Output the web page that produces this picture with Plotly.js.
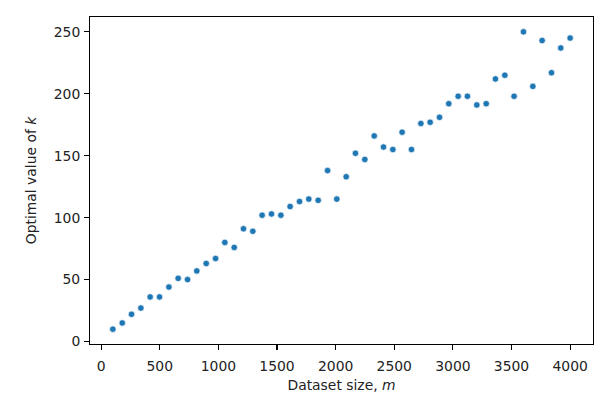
<!DOCTYPE html>
<html>
<head>
<meta charset="utf-8">
<script src="https://cdn.plot.ly/plotly-3.0.1.min.js"></script>
<style>
  html, body { margin: 0; padding: 0; background: white; }
  #chart { width: 614px; height: 406px; }
</style>
</head>
<body>
<div id="chart"></div>
<script>
// Dataset sizes (x)
const datasetSize = [
    100, 180, 259, 339, 418, 498, 578, 657, 737, 816,
    896, 976, 1055, 1135, 1214, 1294, 1373, 1453, 1533, 1612,
    1692, 1771, 1851, 1931, 2010, 2090, 2169, 2249, 2329, 2408,
    2488, 2567, 2647, 2727, 2806, 2886, 2965, 3045, 3124, 3204,
    3284, 3363, 3443, 3522, 3602, 3682, 3761, 3841, 3920, 4000
];

// Optimal k for each dataset size
const optimalK = [
    10, 15, 22, 27, 36, 36, 44, 51, 50, 57,
    63, 67, 80, 76, 91, 89, 102, 103, 102, 109,
    113, 115, 114, 138, 115, 133, 152, 147, 166, 157,
    155, 169, 155, 176, 177, 181, 192, 198, 198, 191,
    192, 212, 215, 198, 250, 206, 243, 217, 237, 245
];

const xTicks = [0, 500, 1000, 1500, 2000, 2500, 3000, 3500, 4000];
const yTicks = [0, 50, 100, 150, 200, 250];

const font = {family: "DejaVu Sans", size: 13.9, color: "#222"};

const axisStyle = {
    showgrid: false,
    zeroline: false,
    showline: true,
    linecolor: "black",
    linewidth: 1.1,
    mirror: true,
    ticks: "outside",
    ticklen: 4.9,
    tickwidth: 1.1,
    tickcolor: "black",
    tickfont: font,
};

const trace = {
    type: "scatter",
    mode: "markers",
    x: datasetSize,
    y: optimalK,
    marker: {
        color: "#1f77b4",
        size: 6.5,
        line: {color: "white", width: 0.7}
    },
    hoverinfo: "x+y",
};

const layout = {
    width: 614,
    height: 406,
    margin: {l: 90, r: 21, t: 17, b: 62},
    paper_bgcolor: "white",
    plot_bgcolor: "white",
    showlegend: false,
    font: font,
    xaxis: {
        ...axisStyle,
        range: [-95, 4195],
        tickvals: xTicks,
        ticktext: xTicks.map(String),
        ticklabelstandoff: 4,
        title: {text: "Dataset size, <i>m</i>", font: font, standoff: 7},
    },
    yaxis: {
        ...axisStyle,
        range: [-2, 262],
        tickvals: yTicks,
        ticktext: yTicks.map(String),
        ticklabelstandoff: 1,
        title: {text: "Optimal value of <i>k</i>", font: font, standoff: 13},
    },
};

Plotly.newPlot("chart", [trace], layout, {displayModeBar: false, staticPlot: true});
</script>
</body>
</html>
